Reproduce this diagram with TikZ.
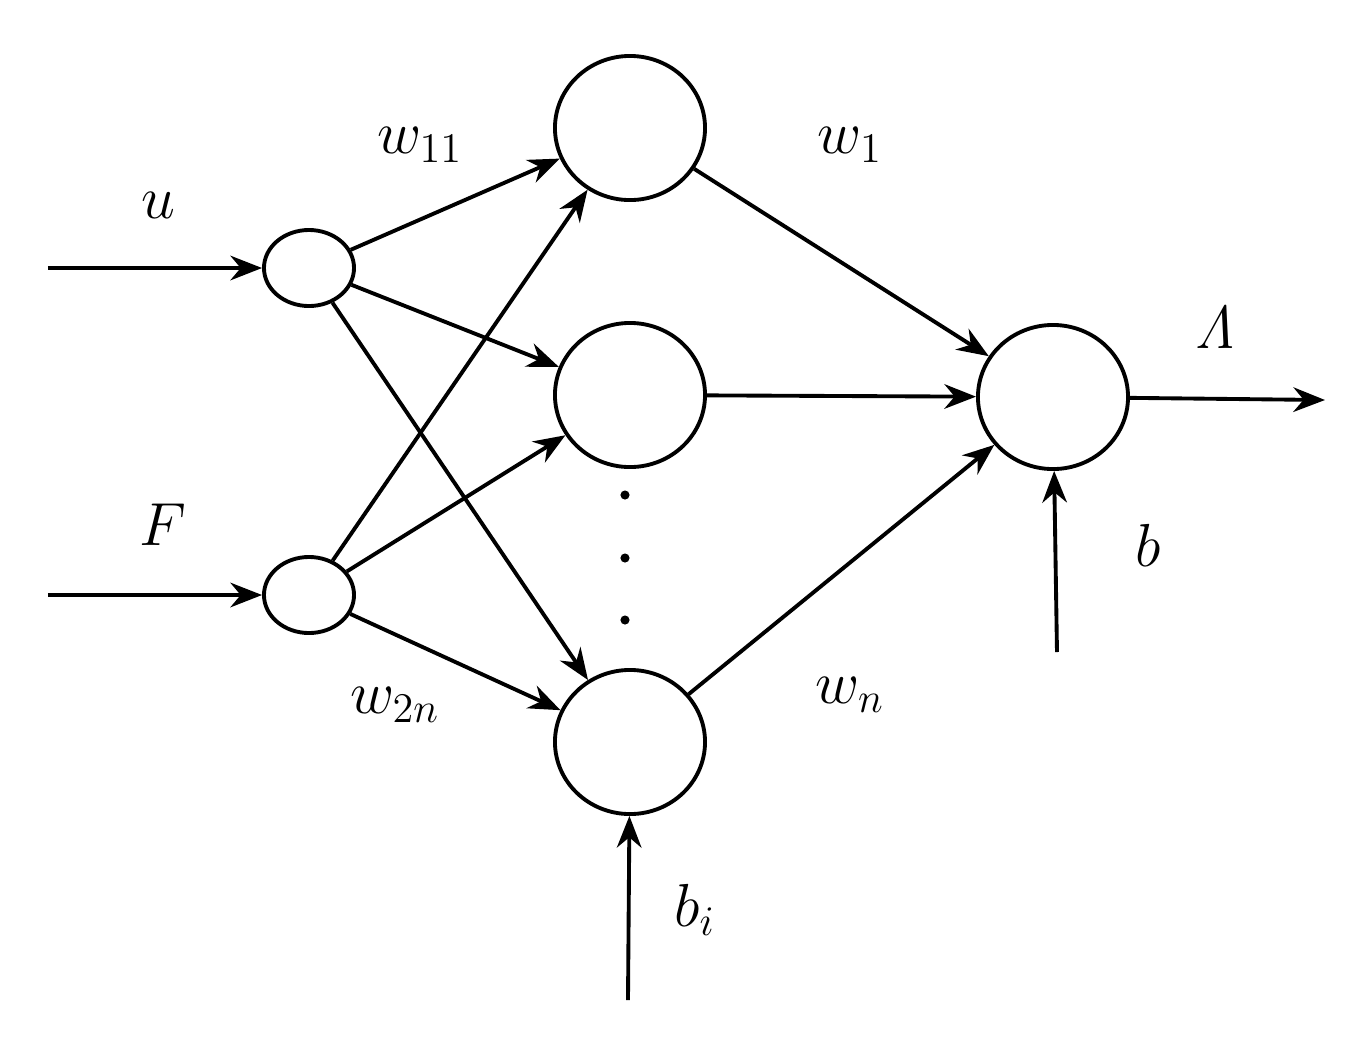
\documentclass[tikz,border=0pt]{standalone}
\usetikzlibrary{arrows.meta,shapes.geometric}
\begin{document}
\begin{tikzpicture}[x=0.01cm,y=-0.01cm,line width=1.1pt,
  inp/.style={draw,ellipse,minimum width=0.9cm,minimum height=0.76cm,inner sep=0},
  hid/.style={draw,ellipse,minimum width=1.5cm,minimum height=1.44cm,inner sep=0},
  arr/.style={-{Stealth[length=9pt,width=7pt]}},
  lab/.style={font=\fontsize{17}{20}\selectfont}]
\useasboundingbox (0,0) rectangle (1365,1044);
\node[inp] (u) at (309,268) {};
\node[inp] (f) at (309,595) {};
\node[hid] (h1) at (630,128) {};
\node[hid] (h2) at (630,395) {};
\node[hid] (h3) at (630,742) {};
\node[hid] (o) at (1053,397) {};
\coordinate (su) at (48,268);
\coordinate (sf) at (48,595);
\coordinate (eo) at (1325,400);
\coordinate (sb) at (1057,652);
\coordinate (sbi) at (628,1000);
\draw[arr] (su) -- (u);
\draw[arr] (sf) -- (f);
\foreach \a in {u,f} \foreach \h in {h1,h2,h3} \draw[arr] (\a) -- (\h);
\foreach \h in {h1,h2,h3} \draw[arr] (\h) -- (o);
\draw[arr] (o) -- (eo);
\draw[arr] (sb) -- (o);
\draw[arr] (sbi) -- (h3);
\foreach \y in {495,558,620} \fill (625,\y) circle (1.3pt);
\node[lab] (lu) at (158,205) {$u$};
\node[lab] (lf) at (163,525) {$F$};
\node[lab] (lw11) at (420,145) {$w_{11}$};
\node[lab] (lw2n) at (395,705) {$w_{2n}$};
\node[lab] (lw1) at (850,145) {$w_1$};
\node[lab] (lwn) at (850,695) {$w_n$};
\node[lab] (ll) at (1215,328) {$\mathit{\Lambda}$};
\node[lab] (lb) at (1148,545) {$b$};
\node[lab] (lbi) at (695,910) {$b_i$};
\end{tikzpicture}
\end{document}
